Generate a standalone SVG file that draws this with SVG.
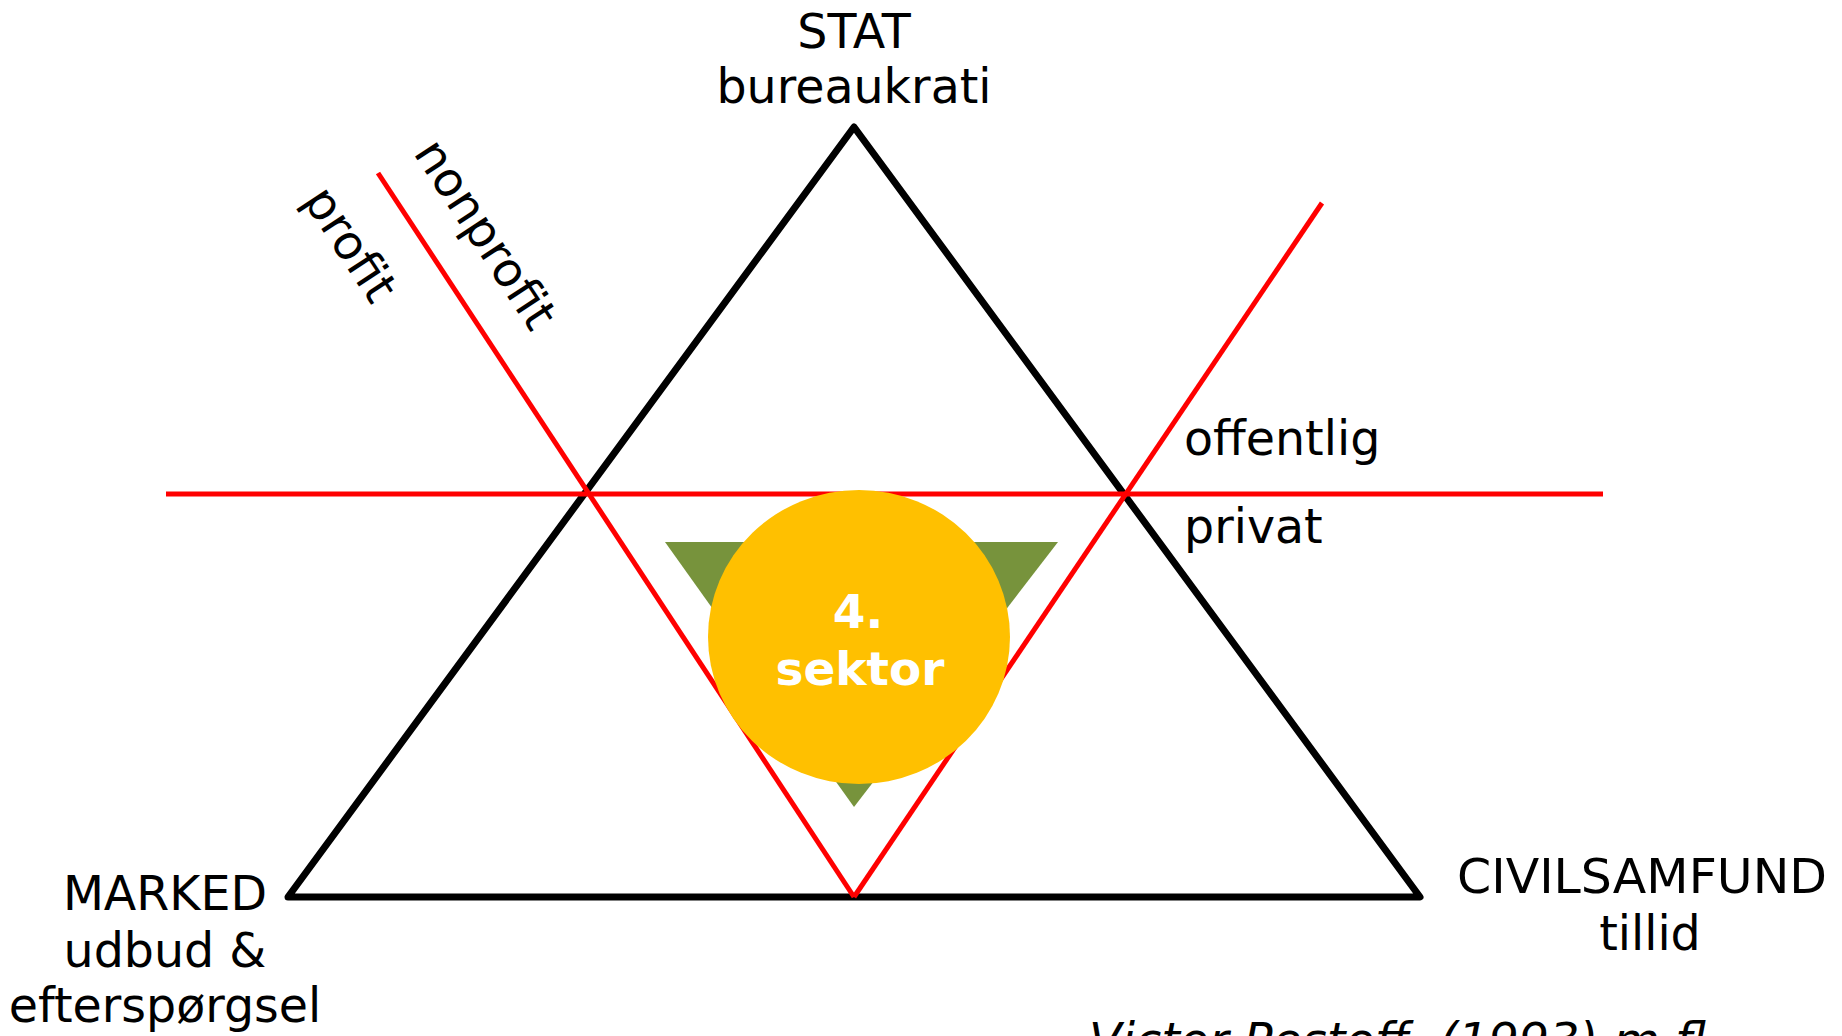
<svg xmlns="http://www.w3.org/2000/svg" width="1842" height="1036" viewBox="0 0 1842 1036">
<style>
.lbl{font-family:"DejaVu Sans","Verdana",sans-serif;font-size:47.5px;fill:#000;text-anchor:middle}
.lft{text-anchor:start}
.red{stroke:#FF0000;stroke-width:5;fill:none}
.ctr{font-family:"DejaVu Sans",sans-serif;font-size:47px;font-weight:bold;fill:#fff;text-anchor:middle}
</style>
<rect width="1842" height="1036" fill="#fff"/>
<g id="triangle">
<polygon points="854,127 1420,897 288,897" fill="none" stroke="#000" stroke-width="7" stroke-linejoin="round"/>
</g>
<g id="connectors">
<line class="red" x1="166" y1="494" x2="1603" y2="494"/>
<line class="red" x1="378" y1="173" x2="854" y2="897"/>
<line class="red" x1="1322" y1="203" x2="854" y2="897"/>
</g>
<g id="sector4">
<polygon points="665,542 1058,542 854,807" fill="#77933C"/>
<ellipse cx="859" cy="637" rx="151" ry="147" fill="#FFC000"/>
<text class="ctr" x="858" y="628">4.</text>
<text class="ctr" x="860" y="685">sektor</text>
</g>
<g id="stat">
<text class="lbl" x="854" y="48">STAT</text>
<text class="lbl" x="854" y="103">bureaukrati</text>
</g>
<g id="marked">
<text class="lbl" x="165" y="910">MARKED</text>
<text class="lbl" x="165" y="967">udbud &amp;</text>
<text class="lbl" x="165" y="1022">efterspørgsel</text>
</g>
<g id="civilsamfund">
<text class="lbl" x="1642" y="893" textLength="370" lengthAdjust="spacingAndGlyphs">CIVILSAMFUND</text>
<text class="lbl" x="1650" y="950">tillid</text>
</g>
<g id="offentlig-privat">
<text class="lbl lft" x="1184" y="455">offentlig</text>
<text class="lbl lft" x="1184" y="543">privat</text>
</g>
<g id="profit-labels">
<text class="lbl" transform="translate(472,243) rotate(56.7)">nonprofit</text>
<text class="lbl" transform="translate(337,253) rotate(56.7)">profit</text>
</g>
<g id="citation">
<text class="lbl lft" x="1089" y="1057" font-style="italic" textLength="632" lengthAdjust="spacingAndGlyphs">Victor Pestoff, (1993) m.fl.</text>
</g>
</svg>
